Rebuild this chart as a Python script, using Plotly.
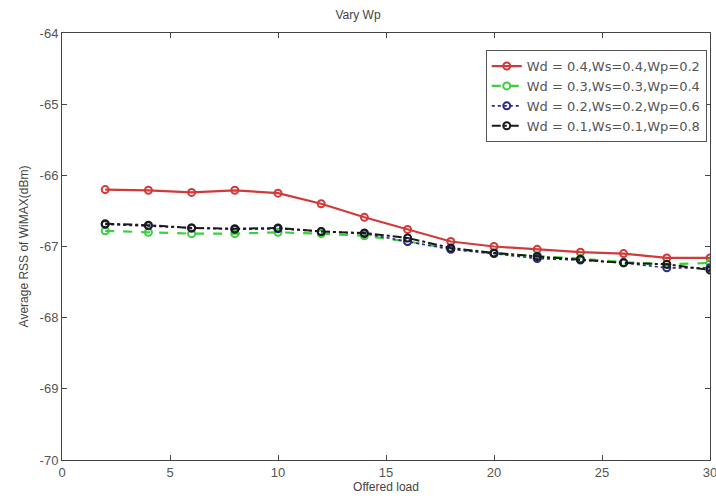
import plotly.graph_objects as go

x = [2, 4, 6, 8, 10, 12, 14, 16, 18, 20, 22, 24, 26, 28, 30]
red = [-66.20, -66.21, -66.24, -66.21, -66.25, -66.40, -66.59, -66.76, -66.93, -67.00, -67.04, -67.08, -67.10, -67.16, -67.16]
green = [-66.78, -66.80, -66.82, -66.82, -66.80, -66.82, -66.85, -66.93, -67.03, -67.10, -67.13, -67.17, -67.22, -67.25, -67.23]
blue = [-66.69, -66.71, -66.74, -66.76, -66.75, -66.79, -66.82, -66.93, -67.04, -67.10, -67.17, -67.19, -67.23, -67.30, -67.30]
black = [-66.68, -66.70, -66.74, -66.75, -66.74, -66.79, -66.81, -66.88, -67.02, -67.09, -67.14, -67.18, -67.23, -67.25, -67.33]
names = ["Wd = 0.4,Ws=0.4,Wp=0.2", "Wd = 0.3,Ws=0.3,Wp=0.4",
         "Wd = 0.2,Ws=0.2,Wp=0.6", "Wd = 0.1,Ws=0.1,Wp=0.8"]
xticks = [0, 5, 10, 15, 20, 25, 30]
yticks = [-70, -69, -68, -67, -66, -65, -64]
ytick_labels = ["-70", "-69", "-68", "-67", "-66", "-65", "-64"]

series = [
    (red, "#d23a3a", "solid", 2.2),
    (green, "#3ccf3c", "dash", 2.2),
    (blue, "#2a2a8c", "dot", 1.6),
    (black, "#1a1a1a", "dashdot", 2.0),
]

fig = go.Figure()
for (vals, col, dash, w), nm in zip(series, names):
    fig.add_trace(go.Scatter(
        x=x, y=vals, name=nm, mode="lines+markers",
        line=dict(color=col, dash=dash, width=w),
        marker=dict(symbol="circle-open", size=7, color=col, line=dict(width=2, color=col)),
    ))

axis_common = dict(
    showline=True, linecolor="#444", linewidth=1, mirror="ticks",
    ticks="inside", ticklen=5, tickcolor="#444", showgrid=False, zeroline=False,
    ticklabeloverflow="allow", automargin=False,
    tickfont=dict(family="Liberation Sans, Arial", size=13, color="#555"),
)
fig.update_layout(
    width=716, height=498,
    margin=dict(l=62, r=6, t=33, b=38),
    paper_bgcolor="white", plot_bgcolor="white",
    title=dict(text="Vary Wp", x=0.5, xanchor="center", y=0.97, yanchor="middle",
               font=dict(family="Liberation Sans, Arial", size=12, color="#444")),
    xaxis=dict(range=[0, 30], tickvals=xticks, title=dict(text="Offered load", standoff=4,
               font=dict(family="Liberation Sans, Arial", size=12, color="#444")), **axis_common),
    yaxis=dict(range=[-70, -64], tickvals=yticks, ticktext=ytick_labels,
               title=dict(text="Average RSS of WiMAX(dBm)", standoff=8,
               font=dict(family="Liberation Sans, Arial", size=12, color="#444")), **axis_common),
    legend=dict(x=0.995, y=0.96, xanchor="right", yanchor="top",
                bgcolor="white", bordercolor="#555", borderwidth=1,
                font=dict(family="DejaVu Sans", size=13, color="#555"),
                tracegroupgap=0, itemwidth=30),
    showlegend=True,
)
fig.write_html("out.html")
